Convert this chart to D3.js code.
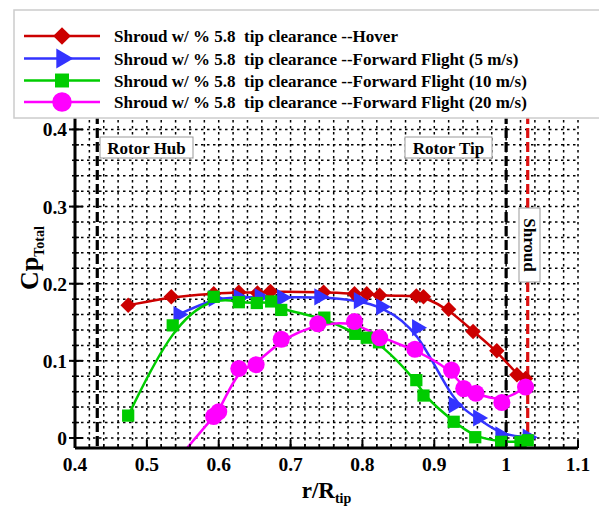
<!DOCTYPE html>
<html>
<head>
<meta charset="utf-8">
<script src="https://cdn.jsdelivr.net/npm/d3@7"></script>
<style>
  body { margin: 0; background: #fff; }
  svg text { font-family: "Liberation Serif", "Times New Roman", serif; font-weight: bold; }
</style>
</head>
<body>
<div id="chart"></div>
<script>
// series data (r/R_tip, Cp_Total)
const hoverX = [0.474, 0.534, 0.593, 0.628, 0.654, 0.672, 0.746, 0.789, 0.806, 0.824, 0.875, 0.885, 0.92, 0.954, 0.987, 1.015, 1.027];
const hoverY = [0.172, 0.183, 0.187, 0.189, 0.188, 0.19, 0.189, 0.187, 0.187, 0.185, 0.184, 0.183, 0.167, 0.138, 0.113, 0.082, 0.077];

const ff5X = [0.544, 0.593, 0.628, 0.657, 0.688, 0.74, 0.795, 0.826, 0.876, 0.927, 0.961, 0.992, 1.03];
const ff5Y = [0.16, 0.181, 0.182, 0.183, 0.182, 0.183, 0.178, 0.17, 0.143, 0.043, 0.026, 0.004, 0.001];

const ff10X = [0.474, 0.536, 0.593, 0.628, 0.653, 0.673, 0.687, 0.747, 0.79, 0.806, 0.823, 0.875, 0.885, 0.927, 0.957, 0.993, 1.02, 1.03];
const ff10Y = [0.029, 0.146, 0.183, 0.176, 0.175, 0.177, 0.166, 0.156, 0.135, 0.13, 0.124, 0.075, 0.055, 0.021, 0.001, -0.005, -0.005, -0.003];

const ff20X = [0.593, 0.6, 0.628, 0.652, 0.687, 0.738, 0.789, 0.824, 0.873, 0.924, 0.941, 0.958, 0.994, 1.027];
const ff20Y = [0.028, 0.034, 0.09, 0.095, 0.128, 0.148, 0.151, 0.13, 0.115, 0.088, 0.064, 0.058, 0.046, 0.066];
// start of the fitted 20 m/s curve below the axis
const ff20TailX = [0.556];
const ff20TailY = [-0.013];

const seriesNames = [
  "Shroud w/ % 5.8  tip clearance --Hover",
  "Shroud w/ % 5.8  tip clearance --Forward Flight (5 m/s)",
  "Shroud w/ % 5.8  tip clearance --Forward Flight (10 m/s)",
  "Shroud w/ % 5.8  tip clearance --Forward Flight (20 m/s)"
];
const seriesColors = ["#cc0000", "#3333ff", "#00cc00", "#ff00ff"];

const xTicks = [0.4, 0.5, 0.6, 0.7, 0.8, 0.9, 1, 1.1];
const yTicks = [0, 0.1, 0.2, 0.3, 0.4];

// reference lines
const hubX = 0.431, tipX = 1.0, shroudX = 1.03;

var W = 599, H = 506;
var pLeft = 75, pRight = 578, pTop = 114, pBottom = 448;

const svg = d3.select('#chart').append('svg')
  .attr('width', W).attr('height', H);

const x = d3.scaleLinear().domain([0.4, 1.1]).range([pLeft, pRight]);
const y = d3.scaleLinear().domain([-0.013, 0.42]).range([pBottom, pTop]);

svg.append('clipPath').attr('id', 'clip')
  .append('rect').attr('x', pLeft).attr('y', pTop).attr('width', pRight - pLeft).attr('height', pBottom - pTop);

// grid every 0.02
const gridX = d3.range(0.42, 1.1, 0.02);
const gridY = d3.range(0, 0.42, 0.02);
const grid = svg.append('g').attr('stroke', '#000').attr('stroke-width', 1.5).attr('stroke-dasharray', '2.5,3.5');
grid.append('g').selectAll('line').data(gridX).join('line')
  .attr('x1', d => x(d)).attr('x2', d => x(d)).attr('y1', pTop).attr('y2', pBottom);
grid.append('g').selectAll('line').data(gridY).join('line')
  .attr('y1', d => y(d)).attr('y2', d => y(d)).attr('x1', pLeft).attr('x2', pRight);

// vertical reference lines
svg.append('line').attr('x1', x(hubX)).attr('x2', x(hubX)).attr('y1', pTop).attr('y2', pBottom)
  .attr('stroke', '#000').attr('stroke-width', 3.2).attr('stroke-dasharray', '10,4');
svg.append('line').attr('x1', x(tipX)).attr('x2', x(tipX)).attr('y1', pTop).attr('y2', pBottom)
  .attr('stroke', '#000').attr('stroke-width', 3.2).attr('stroke-dasharray', '10,4');
svg.append('line').attr('x1', x(shroudX)).attr('x2', x(shroudX)).attr('y1', pTop).attr('y2', pBottom)
  .attr('stroke', '#dd1111').attr('stroke-width', 3.2).attr('stroke-dasharray', '10,4');

// series
const allX = [hoverX, ff5X, ff10X, ff20X];
const allY = [hoverY, ff5Y, ff10Y, ff20Y];
const symbols = [d3.symbolSquare, d3.symbolTriangle, d3.symbolSquare, d3.symbolCircle];
const symSize = [120, 130, 150, 230];
const symRot = [45, 90, 0, 0];

const line = d3.line().x(d => x(d[0])).y(d => y(d[1])).curve(d3.curveBasis);
const plot = svg.append('g').attr('clip-path', 'url(#clip)');

allX.forEach(function(xs, k) {
  let pts = xs.map((v, i) => [v, allY[k][i]]);
  let linePts = pts;
  if (k == 3) linePts = ff20TailX.map((v, i) => [v, ff20TailY[i]]).concat(pts);
  plot.append('path').datum(linePts)
    .attr('fill', 'none').attr('stroke', seriesColors[k]).attr('stroke-width', 2.5)
    .attr('d', line);
});
allX.forEach(function(xs, k) {
  let pts = xs.map((v, i) => [v, allY[k][i]]);
  let sym = d3.symbol().type(symbols[k]).size(symSize[k]);
  svg.append('g').selectAll('path').data(pts).join('path')
    .attr('d', sym)
    .attr('fill', seriesColors[k])
    .attr('transform', d => `translate(${x(d[0])},${y(d[1])}) rotate(${symRot[k]})`);
});

// axes
const yAxis = svg.append('g');
yAxis.append('line').attr('x1', pLeft).attr('x2', pLeft).attr('y1', pTop).attr('y2', pBottom).attr('stroke', '#000').attr('stroke-width', 3);
yAxis.append('g').selectAll('line').data(gridY).join('line')
  .attr('x1', pLeft - 3).attr('x2', pLeft + 4).attr('y1', d => y(d)).attr('y2', d => y(d))
  .attr('stroke', '#000').attr('stroke-width', 1.5);
yAxis.append('g').selectAll('line').data(yTicks).join('line')
  .attr('x1', pLeft - 6).attr('x2', pLeft + 8).attr('y1', d => y(d)).attr('y2', d => y(d))
  .attr('stroke', '#000').attr('stroke-width', 2);
yAxis.append('g').selectAll('text').data(yTicks).join('text')
  .attr('x', pLeft - 8).attr('y', d => y(d) + 7)
  .attr('text-anchor', 'end').attr('font-size', 19.5)
  .text(d => d3.format('')(d));

const xAxis = svg.append('g');
xAxis.append('line').attr('x1', pLeft).attr('x2', pRight).attr('y1', pBottom).attr('y2', pBottom).attr('stroke', '#000').attr('stroke-width', 3);
xAxis.append('g').selectAll('line').data(gridX).join('line')
  .attr('x1', d => x(d)).attr('x2', d => x(d)).attr('y1', pBottom).attr('y2', pBottom - 4)
  .attr('stroke', '#000').attr('stroke-width', 1.5);
xAxis.append('g').selectAll('line').data(xTicks).join('line')
  .attr('x1', d => x(d)).attr('x2', d => x(d)).attr('y1', pBottom).attr('y2', pBottom - 8)
  .attr('stroke', '#000').attr('stroke-width', 2);
xAxis.append('g').selectAll('text').data(xTicks).join('text')
  .attr('x', d => x(d)).attr('y', pBottom + 23)
  .attr('text-anchor', 'middle').attr('font-size', 19.5)
  .text(d => d3.format('')(d));

// axis titles
const xt = svg.append('text').attr('x', (pLeft + pRight) / 2).attr('y', 498).attr('text-anchor', 'middle').attr('font-size', 23);
xt.append('tspan').text('r/R');
xt.append('tspan').attr('font-size', 14).attr('dy', 5).text('tip');

const yt = svg.append('text').attr('transform', 'translate(38,258) rotate(-90)').attr('text-anchor', 'middle').attr('font-size', 26);
yt.append('tspan').text('Cp');
yt.append('tspan').attr('font-size', 14).attr('dy', 6).text('Total');

// annotation boxes
function labelBox(cx, cy, w, h, txt, rot) {
  let g = svg.append('g').attr('transform', `translate(${cx},${cy}) rotate(${rot})`);
  g.append('rect').attr('x', -w / 2).attr('y', -h / 2).attr('width', w).attr('height', h)
    .attr('fill', '#fff').attr('stroke', '#999').attr('stroke-width', 1);
  g.append('text').attr('x', 0).attr('y', 6).attr('text-anchor', 'middle').attr('font-size', 17).text(txt);
}
labelBox(146.5, 147.5, 93, 21, 'Rotor Hub', 0);
labelBox(448.5, 147.5, 87, 21, 'Rotor Tip', 0);
labelBox(529.5, 245, 74, 21, 'Shroud', 90);

// legend
const legend = svg.append('g');
legend.append('rect').attr('x', 14).attr('y', 10).attr('width', 620).attr('height', 108)
  .attr('fill', '#fff').attr('stroke', '#ccc').attr('stroke-width', 1.5);
const rowY = [36, 58.5, 80.5, 102];
seriesNames.forEach(function(name, k) {
  legend.append('line').attr('x1', 24).attr('x2', 100).attr('y1', rowY[k]).attr('y2', rowY[k])
    .attr('stroke', seriesColors[k]).attr('stroke-width', 2.5);
  legend.append('path').attr('d', d3.symbol().type(symbols[k]).size(symSize[k] * 1.3))
    .attr('fill', seriesColors[k])
    .attr('transform', `translate(62,${rowY[k]}) rotate(${symRot[k]})`);
  legend.append('text').attr('x', 114).attr('y', rowY[k] + 6).attr('font-size', 17)
    .attr('xml:space', 'preserve').style('white-space', 'pre').text(name);
});
</script>
</body>
</html>
